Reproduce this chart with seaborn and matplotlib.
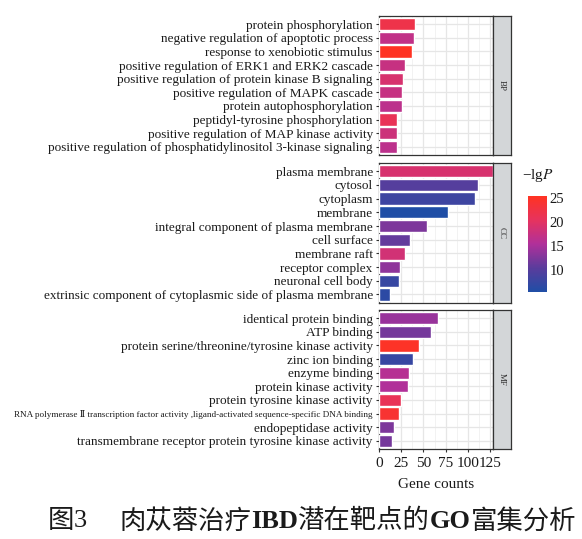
import numpy as np
import pandas as pd
import matplotlib
matplotlib.use("Agg")
import matplotlib.pyplot as plt
import seaborn as sns
from matplotlib.colors import LinearSegmentedColormap, Normalize
from matplotlib.cm import ScalarMappable

# GO terms, gene counts and -lgP per category
bp_terms = [
    "protein phosphorylation",
    "negative regulation of apoptotic process",
    "response to xenobiotic stimulus",
    "positive regulation of ERK1 and ERK2 cascade",
    "positive regulation of protein kinase B signaling",
    "positive regulation of MAPK cascade",
    "protein autophosphorylation",
    "peptidyl-tyrosine phosphorylation",
    "positive regulation of MAP kinase activity",
    "positive regulation of phosphatidylinositol 3-kinase signaling",
]
bp_counts = [40, 39, 37, 29, 27, 26, 26, 20, 20, 20]
bp_lgp = [22, 17, 25.4, 17.5, 19, 17.5, 16.5, 21, 18, 16.5]

cc_terms = [
    "plasma membrane",
    "cytosol",
    "cytoplasm",
    "membrane",
    "integral component of plasma membrane",
    "cell surface",
    "membrane raft",
    "receptor complex",
    "neuronal cell body",
    "extrinsic component of cytoplasmic side of plasma membrane",
]
cc_counts = [128, 112, 108, 78, 54, 35, 29, 24, 23, 12]
cc_lgp = [19, 10, 8, 5.4, 12.5, 11, 18.5, 13.5, 7.5, 6.5]

mf_terms = [
    "identical protein binding",
    "ATP binding",
    "protein serine/threonine/tyrosine kinase activity",
    "zinc ion binding",
    "enzyme binding",
    "protein kinase activity",
    "protein tyrosine kinase activity",
    "RNA polymerase \u2161 transcription factor activity ,ligand-activated sequence-specific DNA binding",
    "endopeptidase activity",
    "transmembrane receptor protein tyrosine kinase activity",
]
mf_counts = [66, 59, 45, 38, 34, 33, 25, 22, 17, 15]
mf_lgp = [14, 12, 25, 7.5, 16, 15.5, 21, 24, 12.5, 12]

x_ticks = [0, 25, 50, 75, 100, 125]
cbar_ticks = [10, 15, 20, 25]

panels = [("BP", bp_terms, bp_counts, bp_lgp),
          ("CC", cc_terms, cc_counts, cc_lgp),
          ("MF", mf_terms, mf_counts, mf_lgp)]

sns.set_theme(style="white")
plt.rcParams['font.family'] = ['Liberation Serif', 'DejaVu Serif']
plt.rcParams['mathtext.fontset'] = 'stix'

cmap = LinearSegmentedColormap.from_list(
    "lgp", [(0.0, "#1f4ea6"), (0.25, "#5a3c9c"), (0.5, "#b0309a"),
            (0.75, "#e6335e"), (1.0, "#ff3322")])
norm = Normalize(vmin=5.4, vmax=25.4)

fig = plt.figure(figsize=(5.82, 5.39), dpi=100)
W, H = 582, 539

# panel boxes in pixels: top, bottom
boxes = [(16, 155), (163, 302.7), (310, 449)]
px_left, px_right, strip_right = 379, 492.7, 510.7
border = "#333333"

for i, (cat, terms, counts, lgp) in enumerate(panels):
    top, bot = boxes[i]
    ax = fig.add_axes([px_left / W, 1 - bot / H, (px_right - px_left) / W, (bot - top) / H])
    df = pd.DataFrame({"term": terms, "count": counts, "lgp": lgp})
    pal = {t: cmap(norm(v)) for t, v in zip(terms, lgp)}
    sns.barplot(data=df, x="count", y="term", hue="term", palette=pal,
                width=0.9, saturation=1, legend=False, ax=ax, zorder=3)
    ax.set_xlim(0, 128)
    ax.set_ylim(len(terms) - 0.4, -0.6)
    ax.set_xticks(x_ticks)
    ax.set_xticks(np.arange(12.5, 128, 25), minor=True)
    ax.grid(True, which="major", color="#e6e6e6", lw=0.9, zorder=0)
    ax.grid(True, which="minor", axis="x", color="#f0f0f0", lw=0.6, zorder=0)
    ax.set_axisbelow(True)
    for s in ax.spines.values():
        s.set_color(border)
        s.set_linewidth(0.9)
    ax.set_ylabel("")
    ax.tick_params(axis="y", length=2.5, width=0.8, color=border, pad=2,
                   labelsize=9.5, labelcolor="#1a1a1a", left=True)
    for lab in ax.get_yticklabels():
        if lab.get_text().startswith("RNA"):
            lab.set_fontsize(6.6)
    if i < 2:
        ax.set_xlabel("")
        ax.tick_params(axis="x", bottom=False, labelbottom=False)
    else:
        ax.tick_params(axis="x", length=2.5, width=0.8, color=border, pad=3,
                       labelsize=11, labelcolor="#1a1a1a", bottom=True)
        ax.tick_params(axis="x", which="minor", bottom=False)
        ax.set_xlabel("Gene counts", fontsize=11, labelpad=6, color="#1a1a1a")

    sax = fig.add_axes([px_right / W, 1 - bot / H, (strip_right - px_right) / W, (bot - top) / H])
    sax.set_facecolor("#d3d6d8")
    sax.set_xticks([])
    sax.set_yticks([])
    for s in sax.spines.values():
        s.set_color(border)
        s.set_linewidth(0.9)
    sax.text(0.5, 0.5, cat, rotation=270, ha="center", va="center",
             fontsize=6.5, color="#333333", transform=sax.transAxes)

# colour bar
cax = fig.add_axes([528.3 / W, 1 - 292 / H, 18.4 / W, 96 / H])
cb = fig.colorbar(ScalarMappable(norm=norm, cmap=cmap), cax=cax, ticks=cbar_ticks)
cb.outline.set_visible(False)
cax.yaxis.set_ticks_position("both")
cax.tick_params(length=3, width=0.8, color="white", direction="in",
                labelsize=10.5, labelcolor="#1a1a1a", pad=2,
                labelleft=False, labelright=True)
fig.text(522 / W, 1 - 175 / H, "\u2212lg$P$", fontsize=11, ha="left",
         va="center", color="#1a1a1a")

# caption with mixed fonts
pieces = [("图", "Noto Sans CJK SC", "normal"),
          ("3", "Liberation Serif", "normal"),
          ("\u3000 ", "Noto Sans CJK SC", "normal"),
          ("肉苁蓉治疗", "Noto Sans CJK SC", "medium"),
          ("IBD", "Liberation Serif", "bold"),
          ("潜在靶点的", "Noto Sans CJK SC", "medium"),
          ("GO", "Liberation Serif", "bold"),
          ("富集分析", "Noto Sans CJK SC", "medium")]
renderer = fig.canvas.get_renderer()
texts = []
x = 53 / W
for txt, fam, wt in pieces:
    t = fig.text(x, 1 - 521 / H, txt, fontsize=19, family=[fam, "Noto Sans CJK SC"],
                 weight=wt, ha="left", va="center", color="#1a1a1a")
    bb = t.get_window_extent(renderer)
    x += bb.width / fig.bbox.width
    texts.append(t)
span = x - 53 / W
shift = ((571 - 53) / W - span) / 2
for t in texts:
    t.set_x(t.get_position()[0] + shift)

fig.savefig("out.png", dpi=100)
